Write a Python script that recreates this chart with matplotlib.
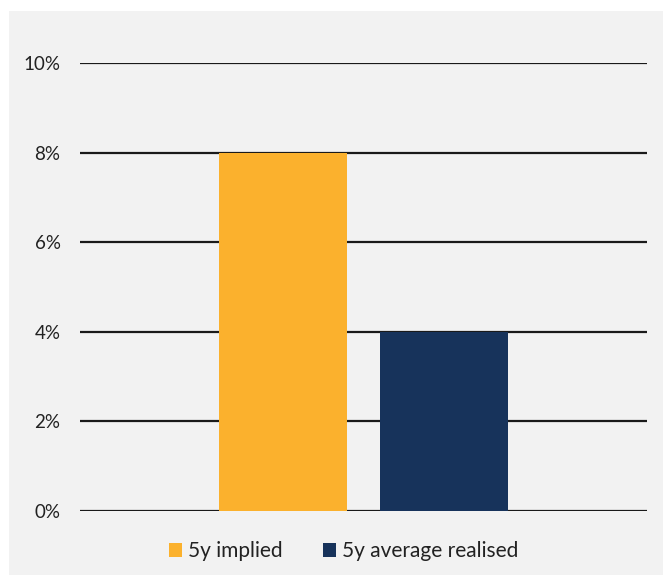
import numpy as np
import matplotlib.pyplot as plt
from matplotlib.patches import Rectangle
from matplotlib.ticker import FuncFormatter

plt.rcParams['font.family'] = ['Lato', 'DejaVu Sans']

# data
series = ['5y implied', '5y average realised']
values = [8.0, 4.0]
colors = ['#FBB12D', '#17335B']
yticks = [0, 2, 4, 6, 8, 10]

fig = plt.figure(figsize=(6.63, 5.75), dpi=100, facecolor='white')
# grey panel behind everything
fig.patches.append(Rectangle((9 / 663, 0), 1 - 9 / 663, 1 - 11 / 575,
                             transform=fig.transFigure, facecolor='#F2F2F2',
                             edgecolor='none', zorder=-1))

ax = fig.add_axes([80 / 663, 64 / 575, 567 / 663, 448 / 575])
ax.set_facecolor('none')

width = 0.2257
offsets = [-0.142, 0.142]
for name, v, c, off in zip(series, values, colors, offsets):
    ax.bar(off, v, width=width, color=c, label=name, zorder=2)

ax.set_xlim(-0.5, 0.5)
ax.set_ylim(0, 10)
ax.set_yticks(yticks)
ax.yaxis.set_major_formatter(FuncFormatter(lambda v, p: f'{v:.0f}%'))
ax.set_xticks([])
ax.tick_params(axis='y', length=0, pad=14, labelsize=13.5, labelcolor='#222222')
for s in ax.spines.values():
    s.set_visible(False)
ax.grid(axis='y', color='#1a1a1a', linewidth=1.6, zorder=1)
ax.set_axisbelow(True)

leg = ax.legend(loc='upper center', bbox_to_anchor=(0.465, -0.025), ncol=2,
                frameon=False, fontsize=15, handlelength=0.65, handleheight=0.65,
                handletextpad=0.3, columnspacing=1.9, labelcolor='#222222')

fig.savefig('out.png', dpi=100)
